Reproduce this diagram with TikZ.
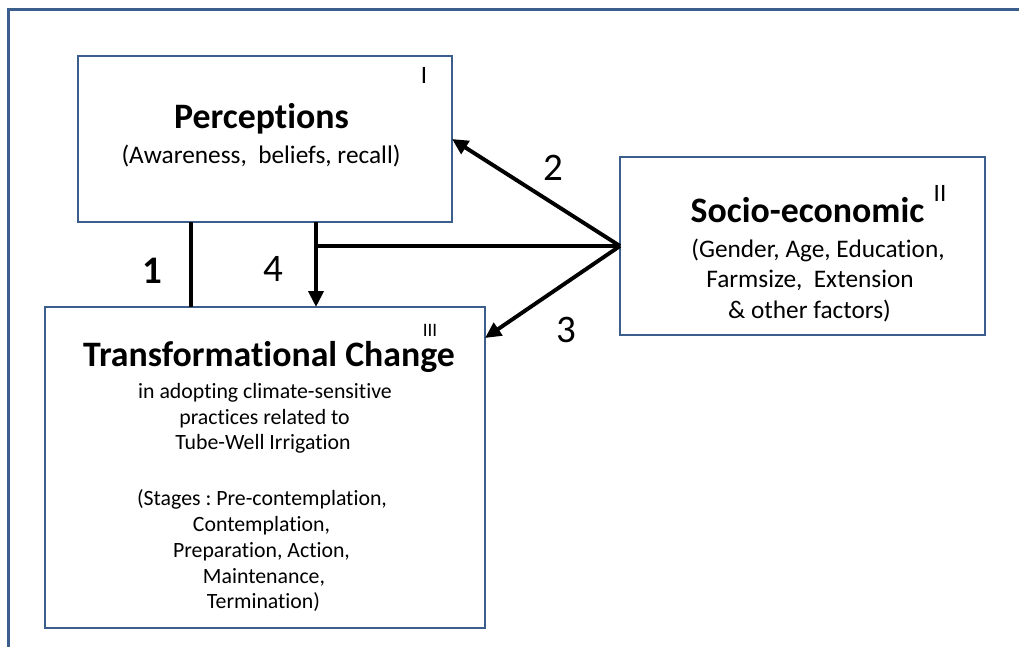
\documentclass[tikz,border=0pt]{standalone}
\usepackage{fontspec}
\setmainfont[Ligatures=NoCommon]{Carlito}
\usetikzlibrary{arrows.meta}
\frenchspacing
\definecolor{frameblue}{HTML}{3B5E8C}
\newcommand{\titlefont}{\fontsize{35.8}{40}\selectfont\bfseries}
\newcommand{\subfont}{\fontsize{25.3}{30}\selectfont}
\newcommand{\bodyfont}{\fontsize{21.8}{26}\selectfont}
\newcommand{\numfont}{\fontsize{39}{44}\selectfont}
\newcommand{\markfont}{\fontsize{25}{28}\selectfont}
\begin{document}
\begin{tikzpicture}[x=1pt,y=-1pt,
  box/.style={draw=frameblue,line width=2.6pt,fill=white,inner sep=0pt,outer sep=0pt},
  txt/.style={inner sep=0pt,outer sep=0pt,anchor=base},
  conn/.style={line width=3.9pt,draw=black},
  arr/.style={conn,-{Triangle[length=16pt,width=15pt]}}]
\useasboundingbox (0,0) rectangle (1019,646);
\clip (0,0) rectangle (1019,646);
\fill[white] (0,0) rectangle (1019,646);

% outer frame (top and left edges)
\draw[frameblue,line width=3pt] (1040,9.5) -- (8.5,9.5) -- (8.5,670);

% boxes
\node[box,minimum width=374pt,minimum height=166pt] (p) at (265,139) {};
\node[box,minimum width=365pt,minimum height=178pt] (s) at (802.5,246) {};
\node[box,minimum width=440pt,minimum height=321pt] (t) at (265,467.5) {};

% Perceptions
\node[txt] (p1) at (261.5,128) {\titlefont Perceptions};
\node[txt] (p2) at (261,163.5) {\subfont (Awareness,\ \ beliefs, recall)};
\node[txt] (pn) at (424,83) {\markfont I};

% Socio-economic
\node[txt] (s1) at (807.5,222) {\titlefont Socio-economic};
\node[txt] (sn) at (940,201) {\markfont II};
\node[txt] (s2) at (818,257) {\subfont (Gender,\ Age, Education,};
\node[txt] (s3) at (810,287.5) {\subfont Farmsize,\ \ Extension};
\node[txt] (s4) at (809.5,318) {\subfont \& other factors)};

% Transformational change
\node[txt] (t1) at (269,366) {\titlefont Transformational Change};
\node[txt] (tn) at (430,336) {\fontsize{19}{22}\selectfont III};
\node[txt] (t2) at (265,398) {\bodyfont in adopting climate-sensitive};
\node[txt] (t3) at (264.5,424) {\bodyfont practices related to};
\node[txt] (t4) at (263,449.5) {\bodyfont Tube-Well Irrigation};
\node[txt] (t5) at (262,505) {\bodyfont (Stages : Pre-contemplation,};
\node[txt] (t6) at (261.5,531) {\bodyfont Contemplation,};
\node[txt] (t7) at (261.5,557) {\bodyfont Preparation, Action,};
\node[txt] (t8) at (264,583) {\bodyfont Maintenance,};
\node[txt] (t9) at (263.5,608.5) {\bodyfont Termination)};

% connector positions
\coordinate (x1) at (191,0);
\coordinate (x4) at (316,0);
\coordinate (y3) at (0,338);

% connectors
\draw[conn] (p.south -| x1) -- (t.north -| x1);
\draw[arr] (p.south -| x4) -- (t.north -| x4);
\draw[conn] (s.west) -- (x4 |- s.west);
\draw[arr] (s.west) -- (p.east);
\draw[arr] (s.west) -- (t.east |- y3);

% connector labels
\node[txt] (n1) at (152,283) {\numfont\bfseries 1};
\node[txt] (n4) at (273.5,281) {\numfont 4};
\node[txt] (n2) at (553,180) {\numfont 2};
\node[txt] (n3) at (566,342) {\numfont 3};
\end{tikzpicture}
\end{document}
